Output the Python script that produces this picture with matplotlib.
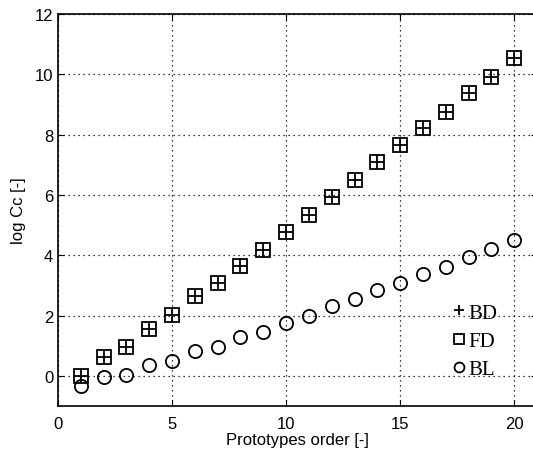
import matplotlib.pyplot as plt
import numpy as np

# prototype order
order = np.arange(1, 21)

# log Cc values
bd = [0.0, 0.61, 0.97, 1.57, 2.02, 2.64, 3.08, 3.65, 4.18, 4.78,
      5.35, 5.94, 6.48, 7.10, 7.64, 8.22, 8.76, 9.38, 9.92, 10.54]
fd = [0.0, 0.61, 0.97, 1.57, 2.02, 2.64, 3.08, 3.65, 4.18, 4.78,
      5.35, 5.94, 6.48, 7.10, 7.64, 8.22, 8.76, 9.38, 9.92, 10.54]
bl = [-0.33, -0.03, 0.03, 0.36, 0.49, 0.81, 0.97, 1.28, 1.47, 1.76,
      1.97, 2.30, 2.55, 2.86, 3.07, 3.39, 3.62, 3.93, 4.20, 4.51]

fig = plt.figure(figsize=(5.33, 4.56), dpi=100)
# axes runs a bit past the right edge, like the original crop
ax = fig.add_axes([58/533, 1 - 407/456, 479/533, 392/456])

ax.plot(order, bd, linestyle='none', marker='+', color='black',
        markersize=10.5, markeredgewidth=1.3, label='BD')
ax.plot(order, fd, linestyle='none', marker='s', color='black',
        markerfacecolor='none', markersize=10.5, markeredgewidth=1.3, label='FD')
ax.plot(order, bl, linestyle='none', marker='o', color='black',
        markerfacecolor='none', markersize=9.5, markeredgewidth=1.3, label='BL')

ax.set_xlim(0, 21)
ax.set_ylim(-1, 12)
ax.set_xticks([0, 5, 10, 15, 20])
ax.set_yticks([0, 2, 4, 6, 8, 10, 12])
ax.grid(True, color='black', linestyle=(0, (1, 3)), linewidth=0.9)
ax.tick_params(direction='in', top=True, right=True, labelsize=12, length=4)
ax.tick_params(axis='x', pad=7)
for lbl in ax.get_xticklabels() + ax.get_yticklabels():
    lbl.set_fontfamily('Liberation Sans')
for sp in ax.spines.values():
    sp.set_linewidth(1.2)

ax.set_xlabel('Prototypes order [-]', fontsize=12, family='Liberation Sans', labelpad=1)
ax.set_ylabel('log Cc [-]', fontsize=12, family='Liberation Sans', labelpad=6)

leg = ax.legend(loc='center', bbox_to_anchor=(18.3, 1.15), bbox_transform=ax.transData,
                frameon=False, prop={'family': 'Liberation Serif', 'size': 15},
                handlelength=0.5, handletextpad=0.2, labelspacing=0.42,
                borderpad=0, markerscale=0.75)

fig.savefig('out.png', dpi=100)
